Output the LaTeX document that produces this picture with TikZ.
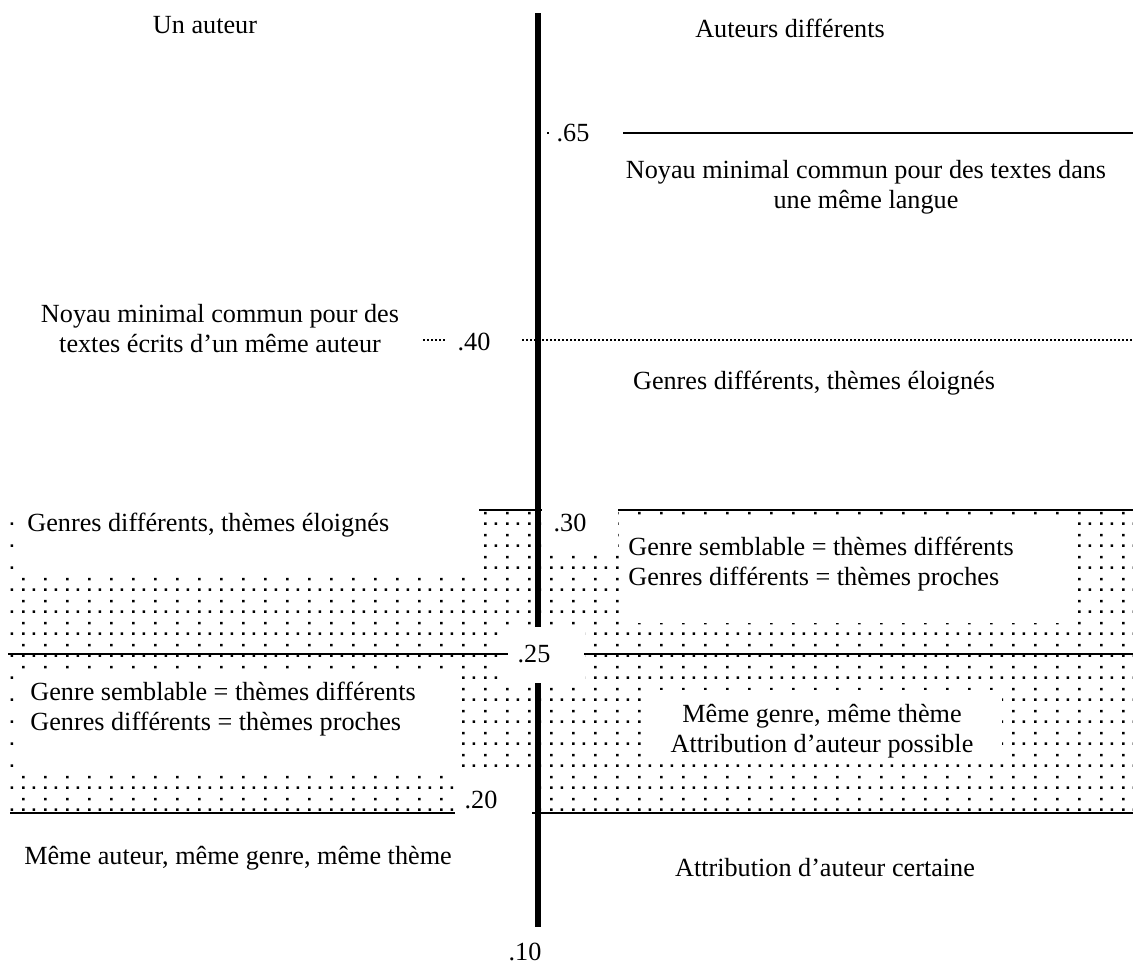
\documentclass[tikz,border=0pt]{standalone}
\usepackage{fontspec}
\setmainfont{Liberation Serif}
\usetikzlibrary{patterns}

% halftone screen of the shaded zone
\pgfdeclarepatternformonly{halftone}{\pgfqpoint{0pt}{0pt}}{\pgfqpoint{11pt}{11pt}}{\pgfqpoint{11pt}{11pt}}{%
    \pgfpathrectangle{\pgfqpoint{0pt}{0pt}}{\pgfqpoint{1.4pt}{1.4pt}}
    \pgfpathrectangle{\pgfqpoint{5.5pt}{0pt}}{\pgfqpoint{1.4pt}{1.4pt}}
    \pgfpathrectangle{\pgfqpoint{0pt}{5.5pt}}{\pgfqpoint{1.4pt}{1.4pt}}
    \pgfusepath{fill}
}

\tikzset{%
    lab/.style={font=\fontsize{13.1pt}{15pt}\selectfont, inner sep=0pt},
    level/.style={line width=1pt},
    dotlevel/.style={line width=1.2pt, dash pattern=on 1pt off 1pt},
    axis/.style={line width=3pt}
}

\begin{document}
\begin{tikzpicture}[x=0.5pt, y=-0.5pt]

    \useasboundingbox (0, 0) rectangle (1133, 964);

    %%%%%%%%%%%%
    % Shaded zone
    \fill[pattern=halftone] (8, 510) rectangle (1133, 813);
    \foreach \xa/\ya/\xb/\yb in {%
        17/500/479/570, 546/500/618/553, 622/517/1078/623,
        503/627/585/683, 17/675/455/773, 642/690/1002/763,
        455/775/533/820%
    }{%
        \fill[white] (\xa, \ya) rectangle (\xb, \yb);
    };

    %%%%%%%%%%%%
    % Levels
    \draw[level] (623, 133) -- (1133, 133);
    \fill (547, 132) rectangle (549, 134);
    \draw[dotlevel] (423, 340) -- (447, 340);
    \draw[dotlevel] (522, 340) -- (1133, 340);
    \draw[level] (479, 510) -- (542, 510);
    \draw[level] (618, 510) -- (1133, 510);
    \draw[level] (8, 654) -- (508, 654);
    \draw[level] (584, 654) -- (1133, 654);
    \draw[level] (10, 813) -- (455, 813);
    \draw[level] (532, 813) -- (1133, 813);

    % Axis
    \draw[axis] (538, 13) -- (538, 627);
    \draw[axis] (538, 683) -- (538, 927);

    \foreach \val/\xx/\yy in {%
        65/573/133, 40/474/342, 30/570/523, 25/534/654, 20/481/800, 10/525/952%
    }{%
        \node[lab] (lvl-\val) at (\xx, \yy) {.\val};
    };

    %%%%%%%%%%%%
    % Texts
    \node[lab] (un-auteur) at (205, 25) {Un auteur};
    \node[lab] (auteurs-diff) at (790, 28) {Auteurs différents};

    \node[lab, align=center] (noyau-langue) at (866, 187)
        {Noyau minimal commun pour des textes dans\\une même langue};
    \node[lab, align=center] (noyau-auteur) at (220, 329)
        {Noyau minimal commun pour des\\textes écrits d'un même auteur};

    \node[lab] (eloignes-d) at (814, 383) {Genres différents, thèmes éloignés};
    \node[lab, anchor=west] (eloignes-g) at (27, 525)
        {Genres différents, thèmes éloignés};

    \node[lab, anchor=west, align=left] (proches-d) at (628, 564)
        {Genre semblable = thèmes différents\\Genres différents = thèmes proches};
    \node[lab, anchor=west, align=left] (proches-g) at (30, 709)
        {Genre semblable = thèmes différents\\Genres différents = thèmes proches};

    \node[lab, align=center] (possible) at (822, 731)
        {Même genre, même thème\\Attribution d'auteur possible};
    \node[lab] (meme-auteur) at (238, 858) {Même auteur, même genre, même thème};
    \node[lab] (certaine) at (825, 868) {Attribution d'auteur certaine};

\end{tikzpicture}
\end{document}
